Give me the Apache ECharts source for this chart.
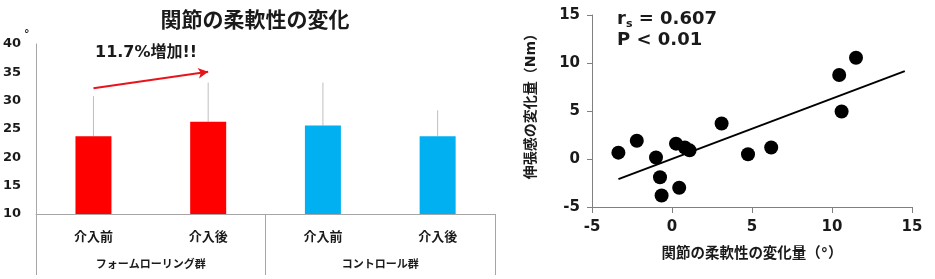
<!DOCTYPE html>
<html>
<head>
<meta charset="utf-8">
<script src="https://cdn.jsdelivr.net/npm/echarts@6/dist/echarts.min.js"></script>
<style>html,body{margin:0;padding:0;background:#fff;}#c{width:935px;height:279px;}</style>
</head>
<body>
<div id="c"></div>
<script>
// ---- Left chart data ----
const barCategories = ['介入前', '介入後', '介入前', '介入後'];
const groupCategories = ['フォームローリング群', 'コントロール群'];
const barMeans = [23.7, 26.3, 25.6, 23.7];
const barErrTops = [30.8, 33.2, 33.2, 28.3];
const barColors = ['#FF0000', '#FF0000', '#00B0F0', '#00B0F0'];
const leftYTicks = { min: 10, max: 40, interval: 5 };
const arrowFrom = [0, 32.2];
const arrowTo = [1, 35.1];

// ---- Right chart data ----
const scatterX = [-3.35, -2.2, -1.0, -0.75, -0.65, 0.25, 0.8, 1.1, 0.45, 3.1, 4.75, 6.2, 10.45, 10.6, 11.5];
const scatterY = [0.66, 1.9, 0.15, -1.9, -3.8, 1.6, 1.2, 0.9, -3.0, 3.7, 0.5, 1.2, 8.75, 4.95, 10.55];
const trendX = [-3.35, 14.55];
const trendY = [-2.1, 9.15];
const rightTicks = { min: -5, max: 15, interval: 5 };

const FONT = '"DejaVu Sans", "Noto Sans CJK JP", sans-serif';
const TXT = '#1a1a1a';

const chart = echarts.init(document.getElementById('c'));
chart.setOption({
  animation: false,
  textStyle: { fontFamily: FONT },
  title: {
    text: '関節の柔軟性の変化',
    left: 250, top: 6, textAlign: 'center',
    textStyle: { fontFamily: FONT, fontWeight: 'bold', fontSize: 21, color: TXT }
  },
  grid: [
    { left: 35, right: 440, top: 44, bottom: 65 },
    { left: 592, right: 23, top: 15, bottom: 72 }
  ],
  xAxis: [
    {
      type: 'category', gridIndex: 0, data: barCategories,
      axisLine: { show: true, lineStyle: { color: '#A6A6A6', width: 1 } },
      axisTick: { show: false },
      axisLabel: { margin: 17, fontSize: 13, fontWeight: 'bold', color: TXT, fontFamily: FONT, interval: 0 }
    },
    {
      type: 'category', gridIndex: 0, data: groupCategories, position: 'bottom',
      axisLine: { show: false },
      axisTick: { show: true, length: 61, lineStyle: { color: '#A6A6A6', width: 1 } },
      axisLabel: { margin: 46, fontSize: 11, fontWeight: 'bold', color: TXT, fontFamily: FONT, interval: 0 }
    },
    {
      type: 'value', gridIndex: 1, min: rightTicks.min, max: rightTicks.max, interval: rightTicks.interval,
      name: '関節の柔軟性の変化量（°）', nameLocation: 'middle', nameGap: 40,
      nameTextStyle: { fontSize: 14.5, fontWeight: 'bold', color: TXT, fontFamily: FONT },
      axisLine: { show: true, onZero: false, lineStyle: { color: '#808080', width: 1 } },
      axisTick: { show: true, length: 6, lineStyle: { color: '#808080' } },
      axisLabel: { margin: 13, fontSize: 15, fontWeight: 'bold', color: TXT, fontFamily: FONT },
      splitLine: { show: false }
    }
  ],
  yAxis: [
    {
      type: 'value', gridIndex: 0, min: leftYTicks.min, max: leftYTicks.max, interval: leftYTicks.interval,
      axisLine: { show: true, lineStyle: { color: '#A6A6A6', width: 1 } },
      axisTick: { show: false },
      axisLabel: { margin: 15, fontSize: 13, fontWeight: 'bold', color: TXT, fontFamily: FONT },
      splitLine: { show: false }
    },
    {
      type: 'value', gridIndex: 1, min: rightTicks.min, max: rightTicks.max, interval: rightTicks.interval,
      name: '伸張感の変化量（Nm）', nameLocation: 'middle', nameGap: 54, nameRotate: 90,
      nameTextStyle: { fontSize: 14, fontWeight: 'bold', color: TXT, fontFamily: FONT, padding: [0, 0, 0, 16] },
      axisLine: { show: true, onZero: false, lineStyle: { color: '#808080', width: 1 } },
      axisTick: { show: true, length: 5, lineStyle: { color: '#808080' } },
      axisLabel: { margin: 12, fontSize: 15, fontWeight: 'bold', color: TXT, fontFamily: FONT },
      splitLine: { show: false }
    }
  ],
  graphic: [
    { type: 'text', left: 24, top: 29, style: { text: '°', font: 'bold 11px ' + FONT, fill: TXT } },
    { type: 'text', left: 95, top: 45, style: { text: '11.7%増加!!', font: 'bold 16px ' + FONT, fill: TXT } },
    {
      type: 'text', left: 617, top: 10,
      style: {
        text: '{a|r}{s|s}{a| = 0.607}\n{a|P < 0.01}',
        rich: {
          a: { fontSize: 18, fontWeight: 'bold', fontFamily: FONT, fill: TXT, lineHeight: 21 },
          s: { fontSize: 11, fontWeight: 'bold', fontFamily: FONT, fill: TXT, verticalAlign: 'bottom', padding: [8, 0, 0, 0], lineHeight: 21 }
        }
      }
    }
  ],
  series: [
    {
      type: 'bar', xAxisIndex: 0, yAxisIndex: 0, barWidth: 36,
      data: barMeans.map((v, i) => ({ value: v, itemStyle: { color: barColors[i] } })),
      markLine: {
        silent: true, symbol: ['none', 'arrow'], symbolSize: [8, 10],
        lineStyle: { color: '#E8141B', width: 2, type: 'solid' },
        label: { show: false },
        data: [[{ coord: arrowFrom }, { coord: arrowTo }]]
      }
    },
    {
      type: 'custom', xAxisIndex: 0, yAxisIndex: 0,
      data: barMeans.map((v, i) => [i, v, barErrTops[i]]),
      renderItem: function (params, api) {
        const p1 = api.coord([api.value(0), api.value(1)]);
        const p2 = api.coord([api.value(0), api.value(2)]);
        return { type: 'line', shape: { x1: p1[0], y1: p1[1], x2: p2[0], y2: p2[1] }, style: { stroke: '#BFBFBF', lineWidth: 1 } };
      },
      z: 1
    },
    {
      type: 'line', xAxisIndex: 2, yAxisIndex: 1,
      data: trendX.map((x, i) => [x, trendY[i]]),
      symbol: 'none', lineStyle: { color: '#000', width: 2 }, z: 2
    },
    {
      type: 'scatter', xAxisIndex: 2, yAxisIndex: 1,
      data: scatterX.map((x, i) => [x, scatterY[i]]),
      symbolSize: 14, itemStyle: { color: '#000', opacity: 1 }, z: 3
    }
  ]
});
</script>
</body>
</html>
